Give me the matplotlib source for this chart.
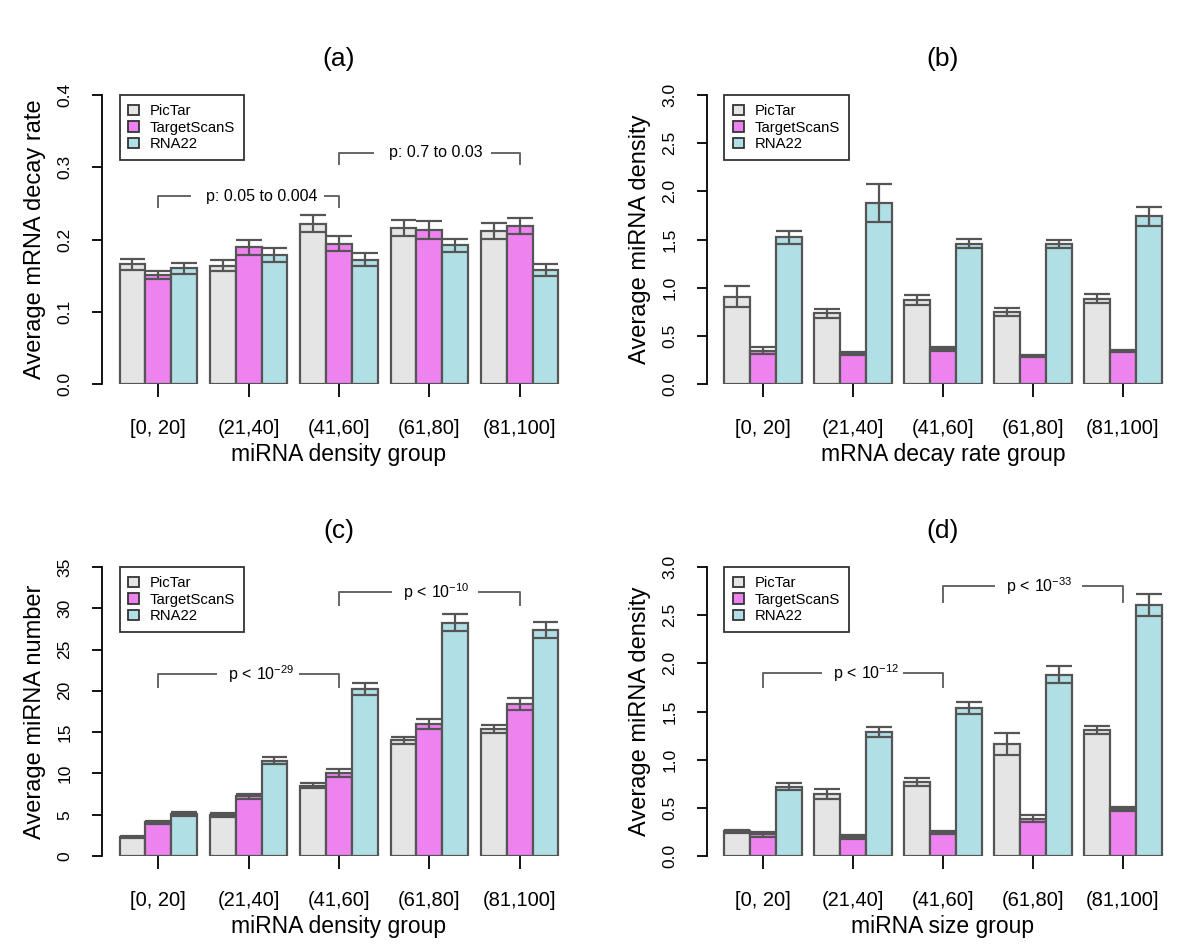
import numpy as np
import matplotlib.pyplot as plt
from matplotlib.patches import Patch

plt.rcParams['font.family'] = ['Liberation Sans', 'DejaVu Sans']
plt.rcParams['mathtext.fontset'] = 'custom'
plt.rcParams['mathtext.rm'] = 'Liberation Sans'
plt.rcParams['mathtext.it'] = 'Liberation Sans:italic'

groups = ['[0, 20]', '(21,40]', '(41,60]', '(61,80]', '(81,100]']
methods = ['PicTar', 'TargetScanS', 'RNA22']
colors = ['#e5e5e5', '#ee82ee', '#b0e0e6']
edge = '#555555'

# panel (a): mRNA decay rate by miRNA density group
a_mean = [[0.166, 0.164, 0.222, 0.216, 0.212],
          [0.151, 0.189, 0.194, 0.213, 0.219],
          [0.160, 0.179, 0.172, 0.192, 0.158]]
a_err = [[0.0077, 0.0076, 0.0117, 0.0108, 0.011],
         [0.0055, 0.0099, 0.0106, 0.0125, 0.0113],
         [0.0075, 0.0097, 0.0088, 0.0092, 0.008]]

# panel (b): miRNA density by mRNA decay rate group
b_mean = [[0.905, 0.733, 0.874, 0.746, 0.885],
          [0.346, 0.318, 0.363, 0.290, 0.342],
          [1.524, 1.883, 1.458, 1.451, 1.742]]
b_err = [[0.109, 0.043, 0.055, 0.038, 0.047],
         [0.038, 0.015, 0.024, 0.010, 0.014],
         [0.069, 0.197, 0.045, 0.043, 0.100]]

# panel (c): miRNA number by miRNA density group
c_mean = [[2.34, 5.0, 8.51, 14.03, 15.36],
          [4.07, 7.22, 10.04, 16.0, 18.43],
          [5.08, 11.53, 20.24, 28.27, 27.34]]
c_err = [[0.1, 0.24, 0.28, 0.44, 0.5],
         [0.2, 0.28, 0.44, 0.62, 0.75],
         [0.24, 0.44, 0.77, 1.0, 0.95]]

# panel (d): miRNA density by miRNA size group
d_mean = [[0.256, 0.639, 0.764, 1.165, 1.31],
          [0.228, 0.197, 0.245, 0.387, 0.487],
          [0.719, 1.289, 1.538, 1.884, 2.606]]
d_err = [[0.018, 0.052, 0.041, 0.112, 0.043],
         [0.026, 0.017, 0.017, 0.038, 0.02],
         [0.038, 0.055, 0.059, 0.088, 0.112]]

panels = [
    ('(a)', a_mean, a_err, 0.4, np.arange(0, 0.41, 0.1), '{:.1f}',
     'miRNA density group', 'Average mRNA decay rate',
     [(0, 1.22, 4.0, 6.45, 7, 0.26, 0.015, 'p: 0.05 to 0.004'),
      (7, 8.33, 10.76, 12.92, 14, 0.32, 0.015, 'p: 0.7 to 0.03')]),
    ('(b)', b_mean, b_err, 3.0, np.arange(0, 3.01, 0.5), '{:.1f}',
     'mRNA decay rate group', 'Average miRNA density', []),
    ('(c)', c_mean, c_err, 35, np.arange(0, 36, 5), '{:.0f}',
     'miRNA density group', 'Average miRNA number',
     [(0, 2.24, 4.0, 5.5, 7, 22, 1.5, r'p$\,<\,$10$^{-29}$'),
      (7, 9.0, 10.75, 12.44, 14, 32, 1.6, r'p$\,<\,$10$^{-10}$')]),
    ('(d)', d_mean, d_err, 3.0, np.arange(0, 3.01, 0.5), '{:.1f}',
     'miRNA size group', 'Average miRNA density',
     [(0, 2.24, 4.03, 5.5, 7, 1.9, 0.15, r'p$\,<\,$10$^{-12}$'),
      (7, 9.0, 10.75, 12.44, 14, 2.8, 0.16, r'p$\,<\,$10$^{-33}$')]),
]

fig = plt.figure(figsize=(12, 9.52), dpi=100)
W, H = 1200, 952
boxes = [(102, 95, 576, 384), (707, 95, 1179, 384),
         (102, 567, 576, 856), (707, 567, 1179, 856)]

centers = np.arange(len(groups)) * 3.5

for (title, means, errs, ymax, yt, fmt, xl, yl, brackets), (x0, y0, x1, y1) in zip(panels, boxes):
    ax = fig.add_axes([x0 / W, 1 - y1 / H, (x1 - x0) / W, (y1 - y0) / H])
    for k in range(3):
        xs = centers + (k - 1)
        m = np.array(means[k])
        e = np.array(errs[k])
        ax.bar(xs, m, width=1, color=colors[k], edgecolor=edge, linewidth=1.6, zorder=2)
        ax.hlines(m + e, xs - 0.5, xs + 0.5, color=edge, lw=1.6, zorder=3)
        ax.hlines(m - e, xs - 0.5, xs + 0.5, color=edge, lw=1.6, zorder=3)
        ax.vlines(xs, m - e, m + e, color=edge, lw=1.6, zorder=3)

    for bx0, bl, bt, br, bx1, by, dr, lab in brackets:
        ax.plot([bx0, bx0, bl], [by - dr, by, by], color='#666666', lw=1.4)
        ax.plot([br, bx1, bx1], [by, by, by - dr], color='#666666', lw=1.4)
        ax.text(bt, by, lab, ha='center', va='center', fontsize=11.5)

    ax.set_xlim(-2.18, 16.18)
    ax.set_ylim(0, ymax)
    for s in ['top', 'right', 'bottom']:
        ax.spines[s].set_visible(False)
    ax.spines['left'].set_bounds(0, ymax)
    ax.spines['left'].set_linewidth(1.3)
    ax.set_yticks(yt)
    ax.set_yticklabels([fmt.format(v) for v in yt], rotation=90, va='center')
    ax.set_xticks(centers)
    ax.set_xticklabels(groups)
    ax.tick_params(axis='y', length=7.5, width=1.3, pad=14, labelsize=12.5)
    ax.tick_params(axis='x', length=9, width=1.3, pad=16, labelsize=14.5)
    ax.set_xlabel(xl, fontsize=16.5, labelpad=4)
    ax.set_ylabel(yl, fontsize=17, labelpad=8)
    ax.set_title(title, fontsize=19, pad=21)

    handles = [Patch(facecolor=c, edgecolor='#333333', linewidth=1.3) for c in colors]
    leg = ax.legend(handles, methods, loc='upper left', bbox_to_anchor=(0.037, 1.0),
                    borderaxespad=0, fancybox=False, fontsize=10.7,
                    handlelength=0.7, handleheight=0.7, labelspacing=0.18,
                    handletextpad=0.75, borderpad=0.6)
    leg.get_frame().set_edgecolor('black')
    leg.get_frame().set_linewidth(1.3)

fig.savefig('out.png', dpi=100)
